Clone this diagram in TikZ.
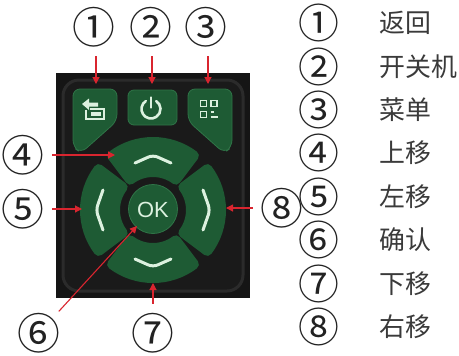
\documentclass[tikz,border=0pt]{standalone}
\usepackage{fontspec}
\newfontfamily\cjk{Noto Sans CJK SC}
\setsansfont{Liberation Sans}
\usetikzlibrary{arrows.meta}

\definecolor{panel}{HTML}{151515}
\definecolor{bezel}{HTML}{2B2B2B}
\definecolor{bezelfill}{HTML}{1A1A1A}
\definecolor{keygreen}{HTML}{1E5B34}
\definecolor{keyedge}{HTML}{2F7447}
\definecolor{glyph}{HTML}{DCF1DF}
\definecolor{callred}{HTML}{D9252F}
\definecolor{ink}{HTML}{222222}
\definecolor{legendink}{HTML}{3A3A3A}

\tikzset{
  keyshape/.style={fill=keygreen, draw=keyedge, line width=0.8bp},
  padkey/.style={fill=keygreen, draw=keygreen, line width=10bp, line join=round},
  icon/.style={draw=glyph, line width=2.6bp, line cap=round, line join=round},
  num/.style={font=\cjk\fontsize{43}{43}\selectfont, text=ink, inner sep=0pt, circle, minimum size=32bp},
  legendnum/.style={font=\cjk\fontsize{41}{41}\selectfont, text=ink, inner sep=0pt},
  legendtext/.style={font=\cjk\fontsize{26}{26}\selectfont, text=legendink, inner sep=0pt, anchor=west},
  callout/.style={draw=callred, line width=1.1bp, -{Triangle[length=7bp,width=7bp]}},
}

% one ring sector of the direction pad, centred on the OK key
\newcommand\padsector[2]{%
  \begin{scope}[shift={(153,210)}, y=1bp]
    \path[padkey] (#1:38) arc[start angle=#1, end angle=#2, radius=38]
      -- (#2:68) arc[start angle=#2, end angle=#1, radius=68] -- cycle;
  \end{scope}}

\begin{document}
\begin{tikzpicture}[x=1bp, y=-1bp]
\useasboundingbox (0,0) rectangle (459,355);
\fill[white] (0,0) rectangle (459,355);

% remote control face
\fill[panel] (56,73) rectangle (250,298);
\draw[bezel, fill=bezelfill, line width=3bp, rounded corners=16bp] (63,80) rectangle (243,291);

% top row: back, power, menu
\path[keyshape, rounded corners=7bp] (95,89) -- (117,89) -- (117,121) -- (81,153) -- (73,147) -- (73,89) -- cycle;
\path[keyshape, rounded corners=6bp] (128,90) rectangle (177,125);
\begin{scope}[shift={(305,0)}, xscale=-1]
  \path[keyshape, rounded corners=7bp] (95,89) -- (117,89) -- (117,121) -- (81,153) -- (73,147) -- (73,89) -- cycle;
\end{scope}

% direction pad
\padsector{53}{127}
\padsector{143}{217}
\padsector{233}{307}
\padsector{323}{397}
\fill[keygreen] (153,209) circle (24.5);
\draw[keyedge, line width=0.8bp] (153,209) circle (24.5);

% key symbols
\fill[glyph] (82,104) -- (89,98.5) -- (89,102.5) -- (98,102.5) -- (98,106.5) -- (89,106.5) -- (89,110) -- cycle;
\draw[glyph, line width=2.2bp] (90,109) -- (104,109) -- (104,119) -- (86,119) -- (86,110);
\fill[glyph] (91,112) rectangle (101,116);
\draw[icon] (151,109) ++(-123:9.5) arc[start angle=-123, end angle=-417, radius=9.5];
\draw[icon] (151,97.5) -- (151,107.5);
\draw[glyph, line width=1.7bp] (200.5,100.5) rectangle (206.5,106.5);
\draw[glyph, line width=1.7bp] (211,100.5) rectangle (217,106.5);
\draw[glyph, line width=1.7bp] (200.5,111.5) rectangle (206.5,117.5);
\draw[glyph, line width=1.7bp] (210.5,112) -- (213.5,112);
\draw[glyph, line width=1.7bp] (210.5,117) -- (217.5,117);
\draw[icon, line width=3bp, rounded corners=5bp] (135,163) -- (153,155) -- (171,163);
\draw[icon, line width=3bp, rounded corners=5bp] (135,259) -- (153,267) -- (171,259);
\draw[icon, line width=3bp, rounded corners=5bp] (103,190) -- (96,210) -- (103,230);
\draw[icon, line width=3bp, rounded corners=5bp] (203,190) -- (210,210) -- (203,230);
\node[font=\sffamily\fontsize{22}{22}\selectfont, text=glyph, inner sep=0pt] (ok) at (153,210) {OK};

% numbered call-outs
\node[num] (n1) at (94,27) {①};
\node[num] (n2) at (151,27) {②};
\node[num] (n3) at (206,27) {③};
\node[num] (n4) at (23,155) {④};
\node[num] (n5) at (23,209) {⑤};
\node[num] (n6) at (39,333) {⑥};
\node[num] (n7) at (153,333) {⑦};
\node[num] (n8) at (282,208) {⑧};

\coordinate (t1) at (96,84);
\coordinate (t2) at (152,84);
\coordinate (t3) at (208,84);
\coordinate (t4) at (115,155);
\coordinate (t5) at (82,209);
\coordinate (t6) at (137,226);
\coordinate (t7) at (153,283);
\coordinate (t8) at (226,208);

\draw[callout] (n1.south -| t1) -- (t1);
\draw[callout] (n2.south -| t2) -- (t2);
\draw[callout] (n3.south -| t3) -- (t3);
\draw[callout] (n4) -- (t4);
\draw[callout] (n5) -- (t5);
\draw[callout] (n6) -- (t6);
\draw[callout] (n7) -- (t7);
\draw[callout] (n8) -- (t8);

% legend
\node[legendnum] (l1) at (319,23) {①};
\node[legendnum] (l2) at (319,67) {②};
\node[legendnum] (l3) at (319,110) {③};
\node[legendnum] (l4) at (319,153) {④};
\node[legendnum] (l5) at (319,197) {⑤};
\node[legendnum] (l6) at (319,240) {⑥};
\node[legendnum] (l7) at (319,284) {⑦};
\node[legendnum] (l8) at (319,327) {⑧};
\node[legendtext] at (379,23) {返回};
\node[legendtext] at (379,67) {开关机};
\node[legendtext] at (379,110) {菜单};
\node[legendtext] at (379,153) {上移};
\node[legendtext] at (379,197) {左移};
\node[legendtext] at (379,240) {确认};
\node[legendtext] at (379,284) {下移};
\node[legendtext] at (379,327) {右移};
\end{tikzpicture}
\end{document}
